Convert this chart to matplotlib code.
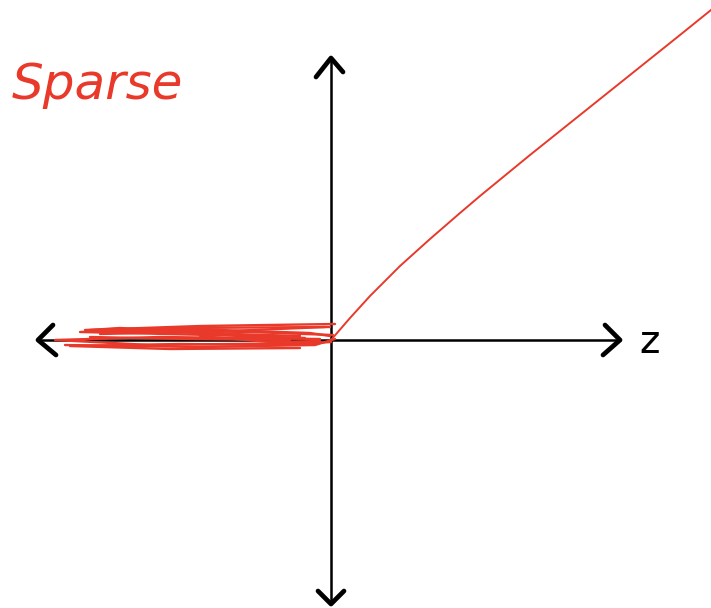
import matplotlib.pyplot as plt

# response curve for z > 0 (z in units of 100 px)
z_pos = [0.0, 0.19, 0.39, 0.69, 0.99, 1.29, 1.49, 1.99, 2.49, 2.99, 3.49, 3.80]
resp_pos = [0.0, 0.22, 0.44, 0.74, 1.01, 1.27, 1.44, 1.85, 2.25, 2.65, 3.05, 3.30]

# scribbled-over part for z < 0 (a few pen strokes)
strokes = [
    ([0.04, -1.31, -2.46, -1.31, -0.31], [0.16, 0.14, 0.10, 0.07, 0.04]),
    ([-0.21, -1.81, -2.76, -1.71, -0.11], [-0.03, -0.05, 0.0, 0.03, 0.01]),
    ([-0.41, -2.11, -2.41, -0.81, 0.02], [0.02, 0.12, 0.10, 0.08, 0.05]),
    ([-2.66, -1.31, -0.16, 0.04], [-0.05, -0.07, -0.05, 0.01]),
    ([-2.31, -1.01, -0.06], [0.06, 0.09, 0.13]),
    ([-0.01, -1.51, -2.51, -1.21, -0.26], [0.13, 0.12, 0.08, 0.05, 0.02]),
    ([-0.31, -1.61, -2.61, -1.51, -0.51, 0.0], [-0.08, -0.09, -0.06, -0.04, -0.05, -0.02]),
    ([-2.41, -1.41, -0.41], [0.03, 0.01, 0.00]),
    ([-2.01, -1.11, -0.21, -0.01], [0.11, 0.10, 0.07, 0.04]),
    ([-0.11, -0.61, -1.31], [-0.01, -0.02, 0.04]),
]

# axis extents
x_min, x_max = -2.93, 2.89
y_min, y_max = -2.64, 2.82

red = '#e8392a'

fig = plt.figure(figsize=(7.11, 6.08), dpi=100)
ax = fig.add_axes([0, 0, 1, 1])
ax.set_xlim(-3.31, 3.80)
ax.set_ylim(-2.68, 3.40)
ax.axis('off')

# axes with open chevron heads
ax.plot([x_min, x_max], [0, 0], color='black', lw=1.8, solid_capstyle='round')
ax.plot([0, 0], [y_min, y_max], color='black', lw=1.8, solid_capstyle='round')
h = 0.15
head = dict(color='black', lw=3.4, solid_capstyle='round', solid_joinstyle='round')
ax.plot([x_min + h, x_min, x_min + h + 0.03], [h, 0, -h], **head)
ax.plot([x_max - h, x_max, x_max - h - 0.02], [h, 0, -h], **head)
ax.plot([-h, 0, h - 0.03], [y_max - h - 0.04, y_max, y_max - h + 0.01], **head)
ax.plot([-h + 0.02, 0, h - 0.02], [y_min + h - 0.02, y_min, y_min + h - 0.02], **head)

ax.text(x_max + 0.19, -0.02, 'z', fontsize=28, ha='left', va='center')

# the function
ax.plot(z_pos, resp_pos, color=red, lw=1.4)
for xs, ys in strokes:
    ax.plot(xs, ys, color=red, lw=1.7, solid_capstyle='round', solid_joinstyle='round')

ax.text(-3.19, 2.55, 'Sparse', fontsize=36, color=red, style='italic',
        fontweight='light', ha='left', va='center')

fig.savefig('out.png', dpi=100)
